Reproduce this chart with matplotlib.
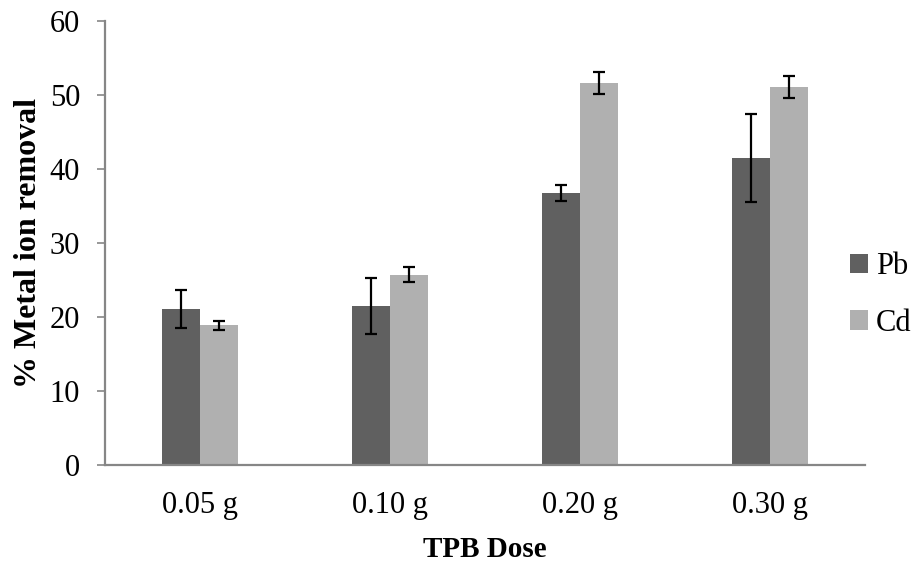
import numpy as np
import matplotlib.pyplot as plt

plt.rcParams['font.family'] = ['Liberation Serif', 'DejaVu Serif']

doses = ['0.05 g', '0.10 g', '0.20 g', '0.30 g']
pb = [21.1, 21.5, 36.8, 41.5]
pb_err = [2.6, 3.8, 1.1, 5.9]
cd = [18.9, 25.7, 51.6, 51.1]
cd_err = [0.6, 1.0, 1.5, 1.5]

x = np.arange(len(doses))
w = 0.198

fig = plt.figure(figsize=(9.15, 5.67), dpi=100)
ax = fig.add_axes([0.1148, 0.18, 0.8306, 0.783])

ekw = dict(ecolor='black', capsize=4.5, error_kw=dict(elinewidth=1.6, capthick=1.6))
ax.bar(x - w/2, pb, w, yerr=pb_err, color='#606060', label='Pb', **ekw)
ax.bar(x + w/2, cd, w, yerr=cd_err, color='#b0b0b0', label='Cd', **ekw)

ax.set_xlim(-0.5, 3.5)
ax.set_ylim(0, 60)
ax.set_yticks(range(0, 61, 10))
ax.set_xticks(x)
ax.set_xticklabels(doses)
ax.tick_params(axis='x', length=0, pad=19, labelsize=22)
ax.tick_params(axis='y', length=6, width=1.2, color='#868686', pad=12, labelsize=22)

for s in ['top', 'right']:
    ax.spines[s].set_visible(False)
for s in ['left', 'bottom']:
    ax.spines[s].set_color('#868686')
    ax.spines[s].set_linewidth(1.6)

ax.set_xlabel('TPB Dose', fontsize=21, fontweight='bold', labelpad=11)
ax.set_ylabel('% Metal ion removal', fontsize=23, fontweight='bold', labelpad=5)

fig.legend(loc='center left', bbox_to_anchor=(0.929, 0.48), frameon=False,
           fontsize=22, handlelength=0.6, handleheight=0.6, handletextpad=0.25,
           labelspacing=0.9, borderpad=0, borderaxespad=0)

fig.savefig('out.png', dpi=100)
